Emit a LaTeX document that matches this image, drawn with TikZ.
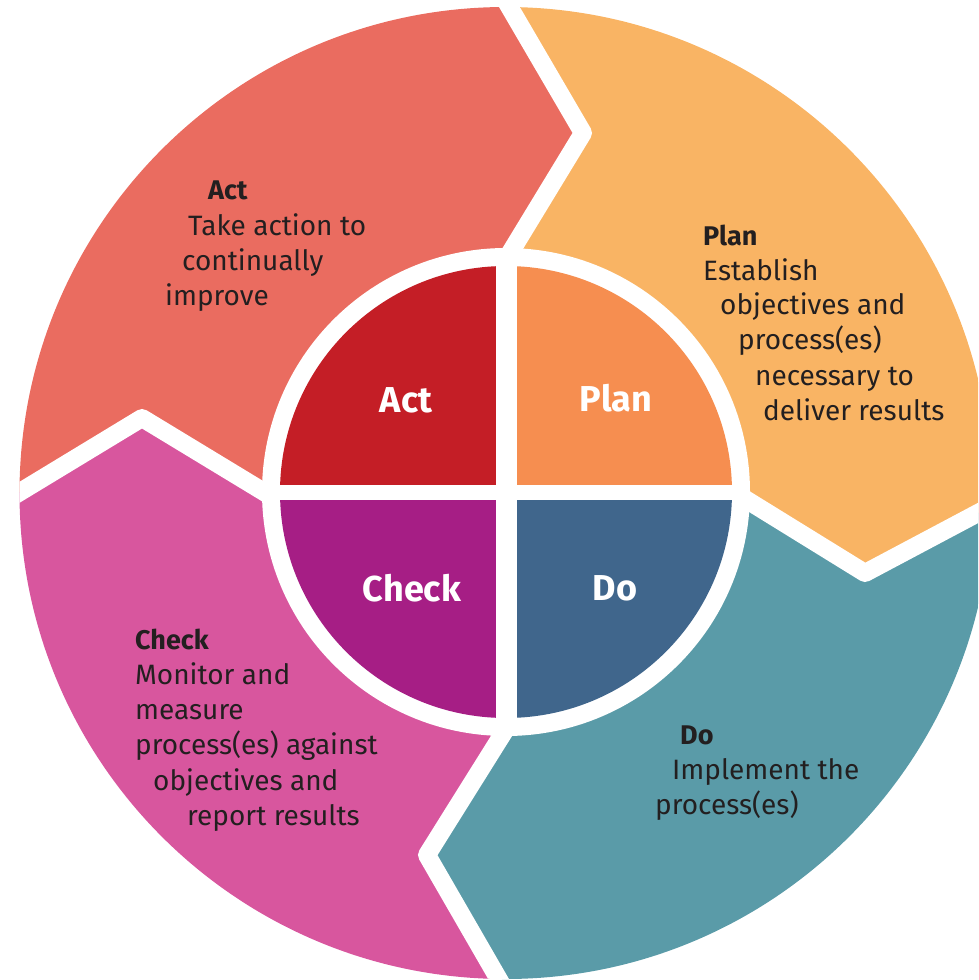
\documentclass[tikz,border=0pt]{standalone}
\usepackage{fontspec}
\setmainfont{Fira Sans}
\definecolor{actout}{RGB}{234,108,96}
\definecolor{planout}{RGB}{249,180,100}
\definecolor{doout}{RGB}{90,155,168}
\definecolor{checkout}{RGB}{216,86,158}
\definecolor{actin}{RGB}{196,30,38}
\definecolor{planin}{RGB}{246,142,80}
\definecolor{doin}{RGB}{64,102,140}
\definecolor{checkin}{RGB}{166,30,133}
\definecolor{txt}{RGB}{35,31,32}
\begin{document}
\begin{tikzpicture}[x=1pt,y=-1pt,
  gapline/.style={draw=white, line width=18pt, line join=round},
  lbl/.style={anchor=base west, inner sep=0pt, text=txt, font=\fontsize{28}{32}\selectfont},
  head/.style={anchor=base west, inner sep=0pt, text=txt, font=\fontsize{27}{31}\selectfont\bfseries},
  qlbl/.style={anchor=base, inner sep=0pt, text=white, font=\fontsize{36}{40}\selectfont\bfseries}]
\useasboundingbox (0,0) rectangle (978,980);
\clip (0,0) rectangle (978,980);
% centres
\coordinate (O) at (505.5,493);
\coordinate (C) at (506,492);
% chevrons: outer end, tip, inner end
\coordinate (O1) at (473.5,-54.5); \coordinate (T1) at (583,133);  \coordinate (I1) at (493,281);
\coordinate (O2) at (1034.5,483);  \coordinate (T2) at (865,573);  \coordinate (I2) at (715.5,480.7);
\coordinate (O3) at (533.5,1039.5);\coordinate (T3) at (427,855);  \coordinate (I3) at (523,701.6);
\coordinate (O4) at (-41,529);     \coordinate (T4) at (142,418);  \coordinate (I4) at (300.6,514.2);
% outer segments
\begin{scope}
  \clip (O) circle[radius=486pt];
  \fill[actout]   (C) -- (I4) -- (T4) -- (O4) -- (-100,-100) -- (O1) -- (T1) -- (I1) -- cycle;
  \fill[planout]  (C) -- (I1) -- (T1) -- (O1) -- (1100,-100) -- (O2) -- (T2) -- (I2) -- cycle;
  \fill[doout]    (C) -- (I2) -- (T2) -- (O2) -- (1100,1100) -- (O3) -- (T3) -- (I3) -- cycle;
  \fill[checkout] (C) -- (I3) -- (T3) -- (O3) -- (-100,1100) -- (O4) -- (T4) -- (I4) -- cycle;
  \draw[gapline] (O1) -- (T1) -- (I1);
  \draw[gapline] (O2) -- (T2) -- (I2);
  \draw[gapline] (O3) -- (T3) -- (I3);
  \draw[gapline] (O4) -- (T4) -- (I4);
\end{scope}
% white ring
\fill[white] (C) circle[radius=244pt];
% inner quadrants
\fill[actin]   (C) -- +(180:226pt) arc[start angle=180, end angle=90,   radius=226pt] -- cycle;
\fill[planin]  (C) -- +(90:226pt)  arc[start angle=90,  end angle=0,    radius=226pt] -- cycle;
\fill[doin]    (C) -- +(0:226pt)   arc[start angle=0,   end angle=-90,  radius=226pt] -- cycle;
\fill[checkin] (C) -- +(-90:226pt) arc[start angle=-90, end angle=-180, radius=226pt] -- cycle;
\draw[white, line width=21pt] (506.5,255) -- (506.5,729);
\draw[white, line width=15pt] (270,492) -- (742,492);
% inner labels
\node[qlbl] (qact)   at (406,412) {Act};
\node[qlbl] (qplan)  at (616,411) {Plan};
\node[qlbl] (qcheck) at (412,601) {Check};
\node[qlbl] (qdo)    at (615,600) {Do};
% Act text
\node[head] (actH)  at (208,199) {Act};
\node[lbl]  (act1)  at (188,235) {Take action to};
\node[lbl]  (act2)  at (182,270) {continually};
\node[lbl]  (act3)  at (165,305) {improve};
% Plan text
\node[head] (planH) at (703,245) {Plan};
\node[lbl]  (plan1) at (703,280) {Establish};
\node[lbl]  (plan2) at (720,314) {objectives and};
\node[lbl]  (plan3) at (738,349) {process(es)};
\node[lbl]  (plan4) at (755,385) {necessary to};
\node[lbl]  (plan5) at (763,420) {deliver results};
% Do text
\node[head] (doH)   at (680,744) {Do};
\node[lbl]  (do1)   at (672,779) {Implement the};
\node[lbl]  (do2)   at (655,814) {process(es)};
% Check text
\node[head] (checkH) at (135,649) {Check};
\node[lbl]  (check1) at (135,684) {Monitor and};
\node[lbl]  (check2) at (135,719) {measure};
\node[lbl]  (check3) at (135,754) {process(es) against};
\node[lbl]  (check4) at (153,790) {objectives and};
\node[lbl]  (check5) at (187,825) {report results};
\end{tikzpicture}
\end{document}
